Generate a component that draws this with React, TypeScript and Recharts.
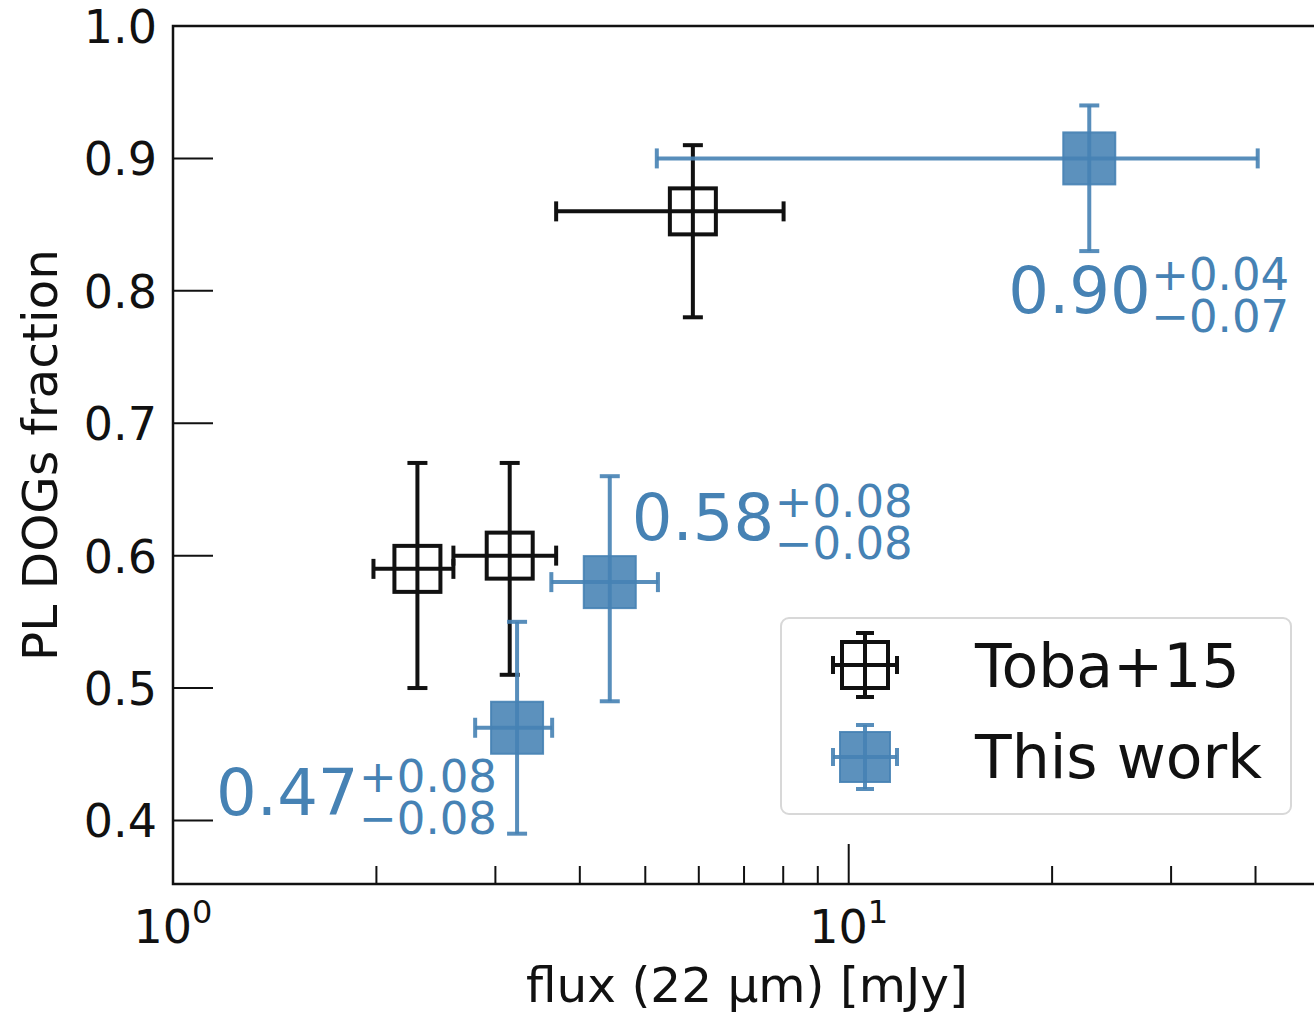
import React from 'react';
import { ScatterChart, Scatter, XAxis, YAxis, ErrorBar, ReferenceArea, ReferenceDot, Legend } from 'recharts';

// ---- data ----
const seriesNames = ['Toba+15', 'This work'];

const tobaFlux = [2.30, 3.15, 5.88];
const tobaFluxErr = [[0.32, 0.30], [0.55, 0.54], [2.19, 2.13]];
const tobaFrac = [0.59, 0.60, 0.86];
const tobaFracErr = [[0.09, 0.08], [0.09, 0.07], [0.08, 0.05]];

const thisFlux = [3.23, 4.43, 22.7];
const thisFluxErr = [[0.43, 0.41], [0.80, 0.79], [17.5, 17.6]];
const thisFrac = [0.47, 0.58, 0.90];
const thisFracErr = [[0.08, 0.08], [0.09, 0.08], [0.07, 0.04]];

const labelMain = ['0.47', '0.58', '0.90'];
const labelPlus = ['+0.08', '+0.08', '+0.04'];
const labelMinus = ['\u22120.08', '\u22120.08', '\u22120.07'];

const xTicks = [1, 2, 3, 4, 5, 6, 7, 8, 9, 10, 20, 30, 40];
const yTicks = [0.4, 0.5, 0.6, 0.7, 0.8, 0.9, 1.0];
const xDomain = [1, 50];
const yDomain = [0.352, 1.0];
const xLabel = 'flux (22 \u00b5m) [mJy]';
const yLabel = 'PL DOGs fraction';

// ---- layout / style (not data) ----
const FONT = 'DejaVu Sans';
const BLUE = '#4682b4';
const BLACK = '#111111';
const annotOffsets = [
  { dx: -301, dy: 87 },
  { dx: 22, dy: -42 },
  { dx: -81, dy: 155 },
];

const tobaData = tobaFlux.map((x, i) => ({ x, y: tobaFrac[i], ex: tobaFluxErr[i], ey: tobaFracErr[i] }));
const thisData = thisFlux.map((x, i) => ({ x, y: thisFrac[i], ex: thisFluxErr[i], ey: thisFracErr[i] }));

const XTick = (props: any) => {
  const { x, y, payload } = props;
  const v = payload.value;
  const lg = Math.log10(v);
  const exp = Math.round(lg);
  const major = Math.abs(lg - exp) < 1e-9;
  return (
    <g>
      <line x1={x} y1={y} x2={x} y2={y - (major ? 40 : 18)} stroke={BLACK} strokeWidth={2} />
      {major && (
        <text x={x} y={y + 59} textAnchor="middle" fontFamily={FONT} fontSize={46} fill={BLACK}>
          10<tspan dy={-20} fontSize={32}>{exp}</tspan>
        </text>
      )}
    </g>
  );
};

const YTick = (props: any) => {
  const { x, y, payload } = props;
  const v = payload.value;
  return (
    <g>
      <line x1={x} y1={y} x2={x + 40} y2={y} stroke={BLACK} strokeWidth={2} />
      <text x={x - 16} y={y + 17} textAnchor="end" fontFamily={FONT} fontSize={46} fill={BLACK}>
        {v.toFixed(1)}
      </text>
    </g>
  );
};

const OpenSquare = (p: any) => (
  <rect x={p.cx - 23} y={p.cy - 23} width={46} height={46} fill="none" stroke={BLACK} strokeWidth={4} />
);
const FilledSquare = (p: any) => (
  <rect x={p.cx - 26} y={p.cy - 26} width={52} height={52} fill={BLUE} fillOpacity={0.88} stroke={BLUE} strokeOpacity={0.9} strokeWidth={2} />
);

const Annot = (p: any, i: number) => {
  const vb = p.viewBox || p;
  const cx = vb.x + (vb.width || 0) / 2;
  const cy = vb.y + (vb.height || 0) / 2;
  const { dx, dy } = annotOffsets[i];
  const x0 = cx + dx;
  const y0 = cy + dy;
  return (
    <text x={x0} y={y0} fontFamily={FONT} fill={BLUE} fontSize={64}>
      <tspan x={x0} y={y0}>{labelMain[i]}</tspan>
      <tspan x={x0 + 143} y={y0 - 23} fontSize={45}>{labelPlus[i]}</tspan>
      <tspan x={x0 + 143} y={y0 + 19} fontSize={45}>{labelMinus[i]}</tspan>
    </text>
  );
};

const LegendMarker = ({ cx, cy, filled }: { cx: number; cy: number; filled: boolean }) => {
  const c = filled ? BLUE : BLACK;
  const half = filled ? 25 : 23;
  return (
    <g>
      <g stroke={c} strokeWidth={4} strokeOpacity={filled ? 0.9 : 1}>
        <line x1={cx - 32} y1={cy} x2={cx + 32} y2={cy} />
        <line x1={cx} y1={cy - 32} x2={cx} y2={cy + 32} />
        <line x1={cx - 32} y1={cy - 9} x2={cx - 32} y2={cy + 9} />
        <line x1={cx + 32} y1={cy - 9} x2={cx + 32} y2={cy + 9} />
        <line x1={cx - 9} y1={cy - 32} x2={cx + 9} y2={cy - 32} />
        <line x1={cx - 9} y1={cy + 32} x2={cx + 9} y2={cy + 32} />
      </g>
      {filled ? (
        <rect x={cx - half} y={cy - half} width={half * 2} height={half * 2} fill={BLUE} fillOpacity={0.88} stroke={BLUE} strokeOpacity={0.9} strokeWidth={2} />
      ) : (
        <rect x={cx - half} y={cy - half} width={half * 2} height={half * 2} fill="none" stroke={BLACK} strokeWidth={4} />
      )}
    </g>
  );
};

const renderLegend = () => (
  <div
    style={{
      width: 508,
      height: 194,
      border: '2px solid #d8d8d8',
      borderRadius: 9,
      background: 'rgba(255,255,255,0.8)',
      boxSizing: 'content-box',
    }}
  >
    <svg width={508} height={194} style={{ display: 'block' }}>
      <LegendMarker cx={83} cy={46} filled={false} />
      <LegendMarker cx={83} cy={138} filled={true} />
      <text x={193} y={68} fontFamily={FONT} fontSize={60} fill={BLACK}>{seriesNames[0]}</text>
      <text x={193} y={159} fontFamily={FONT} fontSize={60} fill={BLACK}>{seriesNames[1]}</text>
    </svg>
  </div>
);

export default function App() {
  return (
    <div style={{ position: 'absolute', left: 0, top: 0, width: 1314, height: 1014, overflow: 'hidden', background: '#fff' }}>
      <ScatterChart width={1340} height={1014} margin={{ top: 26, right: 19, bottom: 0, left: 0 }}>
        <ReferenceArea x1={xDomain[0]} x2={xDomain[1]} y1={yDomain[0]} y2={yDomain[1]} fill="none" fillOpacity={0} stroke={BLACK} strokeWidth={2.5} />
        <XAxis
          dataKey="x"
          type="number"
          scale="log"
          domain={xDomain}
          allowDataOverflow
          ticks={xTicks}
          interval={0}
          tick={XTick}
          tickLine={false}
          axisLine={false}
          tickSize={0}
          tickMargin={0}
          height={130}
          label={{ value: xLabel, position: 'insideBottom', offset: 12, fontFamily: FONT, fontSize: 48.5, fill: BLACK }}
        />
        <YAxis
          dataKey="y"
          type="number"
          domain={yDomain}
          allowDataOverflow
          ticks={yTicks}
          interval={0}
          tick={YTick}
          tickLine={false}
          axisLine={false}
          tickSize={0}
          tickMargin={0}
          width={173}
          label={{ value: yLabel, angle: -90, position: 'insideLeft', offset: 40, fontFamily: FONT, fontSize: 48.5, fill: BLACK, style: { textAnchor: 'middle' } }}
        />
        <Scatter name={seriesNames[0]} data={tobaData} shape={OpenSquare} isAnimationActive={false}>
          <ErrorBar dataKey="ex" direction="x" width={10} stroke={BLACK} strokeWidth={4} />
          <ErrorBar dataKey="ey" direction="y" width={10} stroke={BLACK} strokeWidth={4} />
        </Scatter>
        <Scatter name={seriesNames[1]} data={thisData} shape={FilledSquare} isAnimationActive={false}>
          <ErrorBar dataKey="ex" direction="x" width={10} stroke={BLUE} strokeOpacity={0.9} strokeWidth={4} />
          <ErrorBar dataKey="ey" direction="y" width={10} stroke={BLUE} strokeOpacity={0.9} strokeWidth={4} />
        </Scatter>
        {thisFlux.map((fx, i) => (
          <ReferenceDot
            key={i}
            x={fx}
            y={thisFrac[i]}
            r={0.5}
            fill="none"
            stroke="none"
            ifOverflow="visible"
            label={{ content: (p: any) => Annot(p, i) }}
          />
        ))}
        <Legend
          layout="vertical"
          align="center"
          verticalAlign="middle"
          content={renderLegend}
          wrapperStyle={{ position: 'absolute', left: 780, top: 617, width: 512, height: 198 }}
        />
      </ScatterChart>
    </div>
  );
}
